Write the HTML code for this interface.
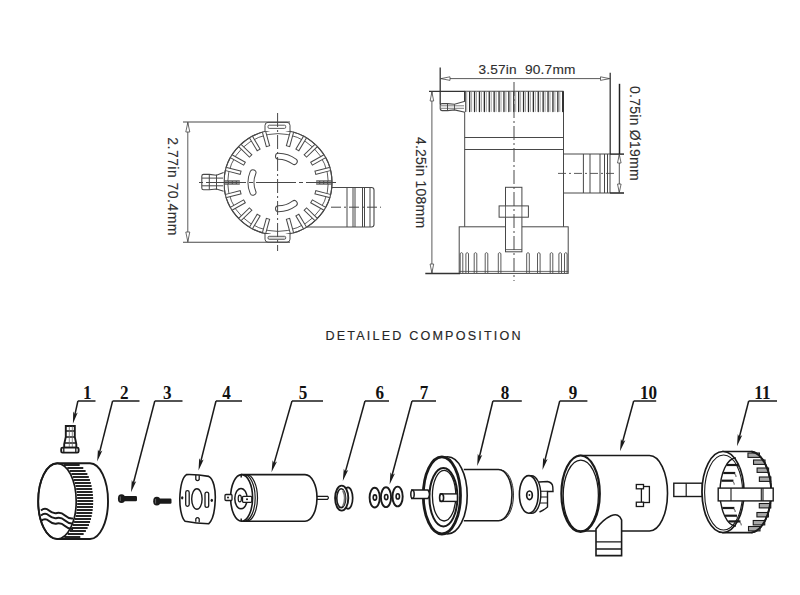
<!DOCTYPE html>
<html><head><meta charset="utf-8"><style>
html,body{margin:0;padding:0;background:#fff;width:800px;height:595px;overflow:hidden}
svg{display:block}
</style></head><body>
<svg width="800" height="595" viewBox="0 0 800 595">
<rect width="800" height="595" fill="#fff"/>
<path d="M330 187.5 H371.5 Q374 187.5 374 190 V224.5 Q374 227 371.5 227 H307" fill="none" stroke="#484848" stroke-width="1.1"/>
<line x1="347" y1="187.6" x2="347" y2="227" stroke="#484848" stroke-width="1"/>
<line x1="353" y1="187.6" x2="353" y2="227" stroke="#484848" stroke-width="1"/>
<line x1="355" y1="187.6" x2="355" y2="227" stroke="#484848" stroke-width="1"/>
<line x1="362.5" y1="187.6" x2="362.5" y2="227" stroke="#484848" stroke-width="1"/>
<line x1="364.5" y1="187.6" x2="364.5" y2="227" stroke="#484848" stroke-width="1"/>
<line x1="370" y1="187.6" x2="370" y2="227" stroke="#484848" stroke-width="1"/>
<g transform="translate(278.0 182.5) scale(1 0.972) translate(-278.0 -182.5)">
<circle cx="278.0" cy="182.5" r="54.0" fill="#fff" stroke="#484848" stroke-width="1.1"/>
<circle cx="278.0" cy="182.5" r="50.3" fill="none" stroke="#484848" stroke-width="0.9"/>
<line x1="316.20" y1="182.50" x2="331.60" y2="182.50" stroke="#484848" stroke-width="4.4" stroke-linecap="butt"/>
<line x1="316.20" y1="182.50" x2="331.60" y2="182.50" stroke="#aaa" stroke-width="2.4" stroke-linecap="butt" stroke-dasharray="3 1"/>
<line x1="314.90" y1="172.61" x2="329.77" y2="168.63" stroke="#484848" stroke-width="4.4" stroke-linecap="butt"/>
<line x1="315.86" y1="172.35" x2="330.74" y2="168.37" stroke="#fff" stroke-width="2.4" stroke-linecap="butt"/>
<line x1="311.08" y1="163.40" x2="324.42" y2="155.70" stroke="#484848" stroke-width="4.4" stroke-linecap="butt"/>
<line x1="311.95" y1="162.90" x2="325.28" y2="155.20" stroke="#fff" stroke-width="2.4" stroke-linecap="butt"/>
<line x1="305.01" y1="155.49" x2="315.90" y2="144.60" stroke="#484848" stroke-width="4.4" stroke-linecap="butt"/>
<line x1="305.72" y1="154.78" x2="316.61" y2="143.89" stroke="#fff" stroke-width="2.4" stroke-linecap="butt"/>
<line x1="297.10" y1="149.42" x2="304.80" y2="136.08" stroke="#484848" stroke-width="4.4" stroke-linecap="butt"/>
<line x1="297.60" y1="148.55" x2="305.30" y2="135.22" stroke="#fff" stroke-width="2.4" stroke-linecap="butt"/>
<line x1="287.89" y1="145.60" x2="291.87" y2="130.73" stroke="#484848" stroke-width="4.4" stroke-linecap="butt"/>
<line x1="288.15" y1="144.64" x2="292.13" y2="129.76" stroke="#fff" stroke-width="2.4" stroke-linecap="butt"/>
<line x1="268.11" y1="145.60" x2="264.13" y2="130.73" stroke="#484848" stroke-width="4.4" stroke-linecap="butt"/>
<line x1="267.85" y1="144.64" x2="263.87" y2="129.76" stroke="#fff" stroke-width="2.4" stroke-linecap="butt"/>
<line x1="258.90" y1="149.42" x2="251.20" y2="136.08" stroke="#484848" stroke-width="4.4" stroke-linecap="butt"/>
<line x1="258.40" y1="148.55" x2="250.70" y2="135.22" stroke="#fff" stroke-width="2.4" stroke-linecap="butt"/>
<line x1="250.99" y1="155.49" x2="240.10" y2="144.60" stroke="#484848" stroke-width="4.4" stroke-linecap="butt"/>
<line x1="250.28" y1="154.78" x2="239.39" y2="143.89" stroke="#fff" stroke-width="2.4" stroke-linecap="butt"/>
<line x1="244.92" y1="163.40" x2="231.58" y2="155.70" stroke="#484848" stroke-width="4.4" stroke-linecap="butt"/>
<line x1="244.05" y1="162.90" x2="230.72" y2="155.20" stroke="#fff" stroke-width="2.4" stroke-linecap="butt"/>
<line x1="241.10" y1="172.61" x2="226.23" y2="168.63" stroke="#484848" stroke-width="4.4" stroke-linecap="butt"/>
<line x1="240.14" y1="172.35" x2="225.26" y2="168.37" stroke="#fff" stroke-width="2.4" stroke-linecap="butt"/>
<line x1="239.80" y1="182.50" x2="224.40" y2="182.50" stroke="#484848" stroke-width="4.4" stroke-linecap="butt"/>
<line x1="239.80" y1="182.50" x2="224.40" y2="182.50" stroke="#aaa" stroke-width="2.4" stroke-linecap="butt" stroke-dasharray="3 1"/>
<line x1="241.10" y1="192.39" x2="226.23" y2="196.37" stroke="#484848" stroke-width="4.4" stroke-linecap="butt"/>
<line x1="240.14" y1="192.65" x2="225.26" y2="196.63" stroke="#fff" stroke-width="2.4" stroke-linecap="butt"/>
<line x1="244.92" y1="201.60" x2="231.58" y2="209.30" stroke="#484848" stroke-width="4.4" stroke-linecap="butt"/>
<line x1="244.05" y1="202.10" x2="230.72" y2="209.80" stroke="#fff" stroke-width="2.4" stroke-linecap="butt"/>
<line x1="250.99" y1="209.51" x2="240.10" y2="220.40" stroke="#484848" stroke-width="4.4" stroke-linecap="butt"/>
<line x1="250.28" y1="210.22" x2="239.39" y2="221.11" stroke="#fff" stroke-width="2.4" stroke-linecap="butt"/>
<line x1="258.90" y1="215.58" x2="251.20" y2="228.92" stroke="#484848" stroke-width="4.4" stroke-linecap="butt"/>
<line x1="258.40" y1="216.45" x2="250.70" y2="229.78" stroke="#fff" stroke-width="2.4" stroke-linecap="butt"/>
<line x1="268.11" y1="219.40" x2="264.13" y2="234.27" stroke="#484848" stroke-width="4.4" stroke-linecap="butt"/>
<line x1="267.85" y1="220.36" x2="263.87" y2="235.24" stroke="#fff" stroke-width="2.4" stroke-linecap="butt"/>
<line x1="287.89" y1="219.40" x2="291.87" y2="234.27" stroke="#484848" stroke-width="4.4" stroke-linecap="butt"/>
<line x1="288.15" y1="220.36" x2="292.13" y2="235.24" stroke="#fff" stroke-width="2.4" stroke-linecap="butt"/>
<line x1="297.10" y1="215.58" x2="304.80" y2="228.92" stroke="#484848" stroke-width="4.4" stroke-linecap="butt"/>
<line x1="297.60" y1="216.45" x2="305.30" y2="229.78" stroke="#fff" stroke-width="2.4" stroke-linecap="butt"/>
<line x1="305.01" y1="209.51" x2="315.90" y2="220.40" stroke="#484848" stroke-width="4.4" stroke-linecap="butt"/>
<line x1="305.72" y1="210.22" x2="316.61" y2="221.11" stroke="#fff" stroke-width="2.4" stroke-linecap="butt"/>
<line x1="311.08" y1="201.60" x2="324.42" y2="209.30" stroke="#484848" stroke-width="4.4" stroke-linecap="butt"/>
<line x1="311.95" y1="202.10" x2="325.28" y2="209.80" stroke="#fff" stroke-width="2.4" stroke-linecap="butt"/>
<line x1="314.90" y1="192.39" x2="329.77" y2="196.37" stroke="#484848" stroke-width="4.4" stroke-linecap="butt"/>
<line x1="315.86" y1="192.65" x2="330.74" y2="196.63" stroke="#fff" stroke-width="2.4" stroke-linecap="butt"/>
<circle cx="278.0" cy="182.5" r="54.0" fill="none" stroke="#484848" stroke-width="1.1"/>
<path d="M252.97 172.39 A27 27 0 0 0 252.97 192.61" fill="none" stroke="#484848" stroke-width="7" stroke-linecap="round"/>
<path d="M252.97 172.39 A27 27 0 0 0 252.97 192.61" fill="none" stroke="#fff" stroke-width="5" stroke-linecap="round"/>
<path d="M294.25 160.94 A27 27 0 0 0 278.47 155.50" fill="none" stroke="#484848" stroke-width="7" stroke-linecap="round"/>
<path d="M294.25 160.94 A27 27 0 0 0 278.47 155.50" fill="none" stroke="#fff" stroke-width="5" stroke-linecap="round"/>
<path d="M278.47 209.50 A27 27 0 0 0 294.25 204.06" fill="none" stroke="#484848" stroke-width="7" stroke-linecap="round"/>
<path d="M278.47 209.50 A27 27 0 0 0 294.25 204.06" fill="none" stroke="#fff" stroke-width="5" stroke-linecap="round"/>
</g>
<path d="M265 131 V125.4 Q265 122.4 268 122.4 H287 Q290 122.4 290 125.4 V131" fill="#fff" stroke="#484848" stroke-width="1"/>
<rect x="268" y="125.2" width="17.7" height="3.2" rx="1.2" fill="none" stroke="#484848" stroke-width="0.9"/>
<path d="M265 234 V239.2 Q265 242.2 268 242.2 H287 Q290 242.2 290 239.2 V234" fill="#fff" stroke="#484848" stroke-width="1"/>
<rect x="268" y="236.3" width="17.7" height="3.0" rx="1.2" fill="#ddd" stroke="#484848" stroke-width="0.9"/>
<path d="M223.6 172.6 L216.5 175.2 L209.3 174.4 H203.6 Q201.8 174.4 201.8 176.2 V188 Q201.8 189.8 203.6 189.8 H209.3 L216.5 189 L223.6 191.2" fill="#fff" stroke="#484848" stroke-width="1.1"/>
<line x1="209.3" y1="174.6" x2="209.3" y2="189.6" stroke="#484848" stroke-width="1"/>
<line x1="216.5" y1="174.6" x2="216.5" y2="189.6" stroke="#484848" stroke-width="1"/>
<line x1="202" y1="178.1" x2="223" y2="178.1" stroke="#484848" stroke-width="1"/>
<line x1="202" y1="185.8" x2="223" y2="185.8" stroke="#484848" stroke-width="1"/>
<line x1="277.6" y1="113" x2="277.6" y2="251" stroke="#484848" stroke-width="1" stroke-dasharray="14 3 2 3"/>
<line x1="199" y1="182.5" x2="336" y2="182.5" stroke="#484848" stroke-width="1" stroke-dasharray="40 3 4 3" stroke-dashoffset="-7"/>
<line x1="331" y1="207.2" x2="381" y2="207.2" stroke="#484848" stroke-width="1" stroke-dasharray="10 3 2 3"/>
<line x1="183" y1="122" x2="290" y2="122" stroke="#484848" stroke-width="1.1"/>
<line x1="183" y1="242.2" x2="290" y2="242.2" stroke="#484848" stroke-width="1.1"/>
<line x1="187.8" y1="122" x2="187.8" y2="242.2" stroke="#484848" stroke-width="0.9"/>
<path d="M185.8 132 L187.8 122.5 L189.8 132 Z" fill="#fff" stroke="#484848" stroke-width="0.8"/>
<path d="M185.8 232 L187.8 241.7 L189.8 232 Z" fill="#fff" stroke="#484848" stroke-width="0.8"/>
<text transform="translate(168.2 137.3) rotate(90)" font-family="&quot;Liberation Sans&quot;, sans-serif" font-size="13.9" fill="#2e2e2e" stroke="#2e2e2e" stroke-width="0.12" textLength="98" lengthAdjust="spacing" style="white-space:pre">2.77in 70.4mm</text>
<path d="M563.5 154 H610 V193 H563.5" fill="none" stroke="#484848" stroke-width="1"/>
<line x1="583.4" y1="154" x2="583.4" y2="193" stroke="#484848" stroke-width="1"/>
<line x1="590" y1="154" x2="590" y2="193" stroke="#484848" stroke-width="1"/>
<line x1="600" y1="154" x2="600" y2="193" stroke="#484848" stroke-width="1"/>
<line x1="604.5" y1="154" x2="604.5" y2="193" stroke="#484848" stroke-width="1"/>
<line x1="607.5" y1="154" x2="607.5" y2="193" stroke="#484848" stroke-width="1"/>
<line x1="558" y1="173.4" x2="617" y2="173.4" stroke="#484848" stroke-width="0.9" stroke-dasharray="8 3 2 3"/>
<path d="M464.7 112 V227 M563.5 112 V227" fill="none" stroke="#484848" stroke-width="1"/>
<line x1="464.7" y1="137.5" x2="563.5" y2="137.5" stroke="#484848" stroke-width="1"/>
<line x1="464.7" y1="149.5" x2="563.5" y2="149.5" stroke="#484848" stroke-width="1"/>
<line x1="464.7" y1="91.3" x2="563.5" y2="91.3" stroke="#484848" stroke-width="1.1"/>
<line x1="464.9" y1="91.3" x2="464.9" y2="112" stroke="#222" stroke-width="1.6"/>
<line x1="563.2" y1="91.3" x2="563.2" y2="112" stroke="#222" stroke-width="1.4"/>
<line x1="469.65" y1="92" x2="469.65" y2="111.5" stroke="#2a2a2a" stroke-width="1.3" stroke-linecap="round"/>
<line x1="466.71" y1="92" x2="466.71" y2="111.5" stroke="#999" stroke-width="0.9" stroke-linecap="round"/>
<line x1="474.55" y1="92" x2="474.55" y2="111.5" stroke="#2a2a2a" stroke-width="1.3" stroke-linecap="round"/>
<line x1="471.61" y1="92" x2="471.61" y2="111.5" stroke="#999" stroke-width="0.9" stroke-linecap="round"/>
<line x1="479.45" y1="92" x2="479.45" y2="111.5" stroke="#2a2a2a" stroke-width="1.3" stroke-linecap="round"/>
<line x1="476.51" y1="92" x2="476.51" y2="111.5" stroke="#999" stroke-width="0.9" stroke-linecap="round"/>
<line x1="484.35" y1="92" x2="484.35" y2="111.5" stroke="#2a2a2a" stroke-width="1.3" stroke-linecap="round"/>
<line x1="481.41" y1="92" x2="481.41" y2="111.5" stroke="#999" stroke-width="0.9" stroke-linecap="round"/>
<line x1="489.25" y1="92" x2="489.25" y2="111.5" stroke="#2a2a2a" stroke-width="1.3" stroke-linecap="round"/>
<line x1="486.31" y1="92" x2="486.31" y2="111.5" stroke="#999" stroke-width="0.9" stroke-linecap="round"/>
<line x1="494.15" y1="92" x2="494.15" y2="111.5" stroke="#2a2a2a" stroke-width="1.3" stroke-linecap="round"/>
<line x1="491.21" y1="92" x2="491.21" y2="111.5" stroke="#999" stroke-width="0.9" stroke-linecap="round"/>
<line x1="499.05" y1="92" x2="499.05" y2="111.5" stroke="#2a2a2a" stroke-width="1.3" stroke-linecap="round"/>
<line x1="496.11" y1="92" x2="496.11" y2="111.5" stroke="#999" stroke-width="0.9" stroke-linecap="round"/>
<line x1="503.95" y1="92" x2="503.95" y2="111.5" stroke="#2a2a2a" stroke-width="1.3" stroke-linecap="round"/>
<line x1="501.01" y1="92" x2="501.01" y2="111.5" stroke="#999" stroke-width="0.9" stroke-linecap="round"/>
<line x1="508.85" y1="92" x2="508.85" y2="111.5" stroke="#2a2a2a" stroke-width="1.3" stroke-linecap="round"/>
<line x1="505.91" y1="92" x2="505.91" y2="111.5" stroke="#999" stroke-width="0.9" stroke-linecap="round"/>
<line x1="513.75" y1="92" x2="513.75" y2="111.5" stroke="#2a2a2a" stroke-width="1.3" stroke-linecap="round"/>
<line x1="510.81" y1="92" x2="510.81" y2="111.5" stroke="#999" stroke-width="0.9" stroke-linecap="round"/>
<line x1="518.65" y1="92" x2="518.65" y2="111.5" stroke="#2a2a2a" stroke-width="1.3" stroke-linecap="round"/>
<line x1="515.72" y1="92" x2="515.72" y2="111.5" stroke="#999" stroke-width="0.9" stroke-linecap="round"/>
<line x1="523.55" y1="92" x2="523.55" y2="111.5" stroke="#2a2a2a" stroke-width="1.3" stroke-linecap="round"/>
<line x1="520.62" y1="92" x2="520.62" y2="111.5" stroke="#999" stroke-width="0.9" stroke-linecap="round"/>
<line x1="528.45" y1="92" x2="528.45" y2="111.5" stroke="#2a2a2a" stroke-width="1.3" stroke-linecap="round"/>
<line x1="525.51" y1="92" x2="525.51" y2="111.5" stroke="#999" stroke-width="0.9" stroke-linecap="round"/>
<line x1="533.36" y1="92" x2="533.36" y2="111.5" stroke="#2a2a2a" stroke-width="1.3" stroke-linecap="round"/>
<line x1="530.42" y1="92" x2="530.42" y2="111.5" stroke="#999" stroke-width="0.9" stroke-linecap="round"/>
<line x1="538.25" y1="92" x2="538.25" y2="111.5" stroke="#2a2a2a" stroke-width="1.3" stroke-linecap="round"/>
<line x1="535.32" y1="92" x2="535.32" y2="111.5" stroke="#999" stroke-width="0.9" stroke-linecap="round"/>
<line x1="543.15" y1="92" x2="543.15" y2="111.5" stroke="#2a2a2a" stroke-width="1.3" stroke-linecap="round"/>
<line x1="540.22" y1="92" x2="540.22" y2="111.5" stroke="#999" stroke-width="0.9" stroke-linecap="round"/>
<line x1="548.05" y1="92" x2="548.05" y2="111.5" stroke="#2a2a2a" stroke-width="1.3" stroke-linecap="round"/>
<line x1="545.12" y1="92" x2="545.12" y2="111.5" stroke="#999" stroke-width="0.9" stroke-linecap="round"/>
<line x1="552.95" y1="92" x2="552.95" y2="111.5" stroke="#2a2a2a" stroke-width="1.3" stroke-linecap="round"/>
<line x1="550.01" y1="92" x2="550.01" y2="111.5" stroke="#999" stroke-width="0.9" stroke-linecap="round"/>
<line x1="557.86" y1="92" x2="557.86" y2="111.5" stroke="#2a2a2a" stroke-width="1.3" stroke-linecap="round"/>
<line x1="554.92" y1="92" x2="554.92" y2="111.5" stroke="#999" stroke-width="0.9" stroke-linecap="round"/>
<line x1="562.75" y1="92" x2="562.75" y2="111.5" stroke="#2a2a2a" stroke-width="1.3" stroke-linecap="round"/>
<line x1="559.82" y1="92" x2="559.82" y2="111.5" stroke="#999" stroke-width="0.9" stroke-linecap="round"/>
<rect x="459.2" y="226.8" width="109" height="46.6" fill="#fff" stroke="#484848" stroke-width="1"/>
<line x1="459.2" y1="271.4" x2="568.2" y2="271.4" stroke="#484848" stroke-width="0.8"/>
<path d="M460.2 273 V253.5 Q461.5 251.8 462.8 253.5 V273" fill="none" stroke="#484848" stroke-width="0.9"/>
<path d="M465.9 273 V253.5 Q467.2 251.8 468.5 253.5 V273" fill="none" stroke="#484848" stroke-width="0.9"/>
<path d="M474.2 273 V253.5 Q475.5 251.8 476.8 253.5 V273" fill="none" stroke="#484848" stroke-width="0.9"/>
<path d="M485.2 273 V253.5 Q486.5 251.8 487.8 253.5 V273" fill="none" stroke="#484848" stroke-width="0.9"/>
<path d="M498.3 273 V253.5 Q499.6 251.8 500.90000000000003 253.5 V273" fill="none" stroke="#484848" stroke-width="0.9"/>
<path d="M526.7 273 V253.5 Q528 251.8 529.3 253.5 V273" fill="none" stroke="#484848" stroke-width="0.9"/>
<path d="M537.5 273 V253.5 Q538.8 251.8 540.0999999999999 253.5 V273" fill="none" stroke="#484848" stroke-width="0.9"/>
<path d="M550.2 273 V253.5 Q551.5 251.8 552.8 253.5 V273" fill="none" stroke="#484848" stroke-width="0.9"/>
<path d="M558.9000000000001 273 V253.5 Q560.2 251.8 561.5 253.5 V273" fill="none" stroke="#484848" stroke-width="0.9"/>
<path d="M564.5 273 V253.5 Q565.8 251.8 567.0999999999999 253.5 V273" fill="none" stroke="#484848" stroke-width="0.9"/>
<rect x="505.5" y="187.3" width="16.4" height="64.5" fill="#fff" stroke="#484848" stroke-width="1"/>
<rect x="499.1" y="205.9" width="29.3" height="11.3" fill="#fff" stroke="#484848" stroke-width="1"/>
<line x1="505.5" y1="249.6" x2="521.9" y2="249.6" stroke="#484848" stroke-width="0.8"/>
<line x1="505.5" y1="205.9" x2="505.5" y2="217.2" stroke="#484848" stroke-width="0.8"/>
<line x1="521.9" y1="205.9" x2="521.9" y2="217.2" stroke="#484848" stroke-width="0.8"/>
<path d="M465 101.3 L454.5 104.3 L447.5 103.6 H442.2 Q440.2 103.6 440.2 105.6 V108.6 Q440.2 110.6 442.2 110.6 H447.5 L454.5 109.9 L465 112.3" fill="#fff" stroke="#484848" stroke-width="1.1"/>
<line x1="447.5" y1="103.6" x2="447.5" y2="110.6" stroke="#484848" stroke-width="1"/>
<line x1="454.5" y1="104.3" x2="454.5" y2="109.9" stroke="#484848" stroke-width="0.9"/>
<line x1="441" y1="105.8" x2="464" y2="105.8" stroke="#484848" stroke-width="0.7"/>
<line x1="441" y1="108.3" x2="464" y2="108.3" stroke="#484848" stroke-width="0.7"/>
<line x1="514" y1="82" x2="514" y2="281" stroke="#484848" stroke-width="1" stroke-dasharray="14 3 2 3"/>
<line x1="440.2" y1="67.6" x2="440.2" y2="104.5" stroke="#333" stroke-width="1.3"/>
<line x1="610.2" y1="72.7" x2="610.2" y2="154" stroke="#333" stroke-width="1.3"/>
<line x1="440.3" y1="78.6" x2="610.2" y2="78.6" stroke="#484848" stroke-width="0.9"/>
<path d="M450 76.8 L441 78.6 L450 80.4 Z" fill="#fff" stroke="#484848" stroke-width="0.8"/>
<path d="M600.5 76.8 L609.5 78.6 L600.5 80.4 Z" fill="#fff" stroke="#484848" stroke-width="0.8"/>
<line x1="429" y1="91.3" x2="465" y2="91.3" stroke="#333" stroke-width="1.3"/>
<line x1="425.3" y1="273.5" x2="460" y2="273.5" stroke="#333" stroke-width="1.3"/>
<line x1="431.9" y1="91.3" x2="431.9" y2="273.5" stroke="#484848" stroke-width="0.9"/>
<path d="M430.1 101 L431.9 92 L433.7 101 Z" fill="#fff" stroke="#484848" stroke-width="0.8"/>
<path d="M430.1 264 L431.9 273 L433.7 264 Z" fill="#fff" stroke="#484848" stroke-width="0.8"/>
<line x1="619.5" y1="83.8" x2="619.5" y2="154" stroke="#222" stroke-width="1.5"/>
<line x1="619.3" y1="154" x2="619.3" y2="193" stroke="#555" stroke-width="1"/>
<line x1="610" y1="154.1" x2="624" y2="154.1" stroke="#222" stroke-width="1.4"/>
<line x1="610" y1="193" x2="624" y2="193" stroke="#222" stroke-width="1.5"/>
<path d="M617.5 163 L619.3 154.5 L621.1 163 Z" fill="#fff" stroke="#484848" stroke-width="0.8"/>
<path d="M617.5 184 L619.3 192.5 L621.1 184 Z" fill="#fff" stroke="#484848" stroke-width="0.8"/>
<text x="478.4" y="73.8" font-family="&quot;Liberation Sans&quot;, sans-serif" font-size="13.7" fill="#2e2e2e" stroke="#2e2e2e" stroke-width="0.12" textLength="97" lengthAdjust="spacing" style="white-space:pre">3.57in  90.7mm</text>
<text transform="translate(415.8 137) rotate(90)" font-family="&quot;Liberation Sans&quot;, sans-serif" font-size="13.9" fill="#2e2e2e" stroke="#2e2e2e" stroke-width="0.12" textLength="91" lengthAdjust="spacing" style="white-space:pre">4.25in 108mm</text>
<text transform="translate(630.2 86) rotate(90)" font-family="&quot;Liberation Sans&quot;, sans-serif" font-size="13.9" fill="#2e2e2e" stroke="#2e2e2e" stroke-width="0.12" textLength="94.5" lengthAdjust="spacing" style="white-space:pre">0.75in Ø19mm</text>
<text x="325.5" y="339.6" font-family="&quot;Liberation Sans&quot;, sans-serif" font-size="12.6" fill="#262626" stroke="#262626" stroke-width="0.15" textLength="195" lengthAdjust="spacing">DETAILED COMPOSITION</text>
<text transform="translate(83.0 399.3) scale(0.9 1)" font-family="&quot;Liberation Serif&quot;, serif" font-weight="bold" font-size="19" fill="#111">1</text>
<line x1="77.9" y1="401" x2="95.5" y2="401" stroke="#1a1a1a" stroke-width="1.5"/>
<line x1="77.9" y1="401" x2="74.84" y2="414.91" stroke="#1a1a1a" stroke-width="1.5"/>
<path d="M72.90 423.70 L73.24 411.49 L74.94 414.42 L77.73 412.48 Z" fill="#1a1a1a"/>
<text transform="translate(120.0 399.3) scale(0.9 1)" font-family="&quot;Liberation Serif&quot;, serif" font-weight="bold" font-size="19" fill="#111">2</text>
<line x1="112.6" y1="401" x2="139.5" y2="401" stroke="#1a1a1a" stroke-width="1.5"/>
<line x1="112.6" y1="401" x2="99.42" y2="452.88" stroke="#1a1a1a" stroke-width="1.5"/>
<path d="M97.20 461.60 L97.93 449.40 L99.54 452.39 L102.38 450.54 Z" fill="#1a1a1a"/>
<text transform="translate(163 399.3) scale(0.9 1)" font-family="&quot;Liberation Serif&quot;, serif" font-weight="bold" font-size="19" fill="#111">3</text>
<line x1="154.8" y1="401" x2="182.5" y2="401" stroke="#1a1a1a" stroke-width="1.5"/>
<line x1="154.8" y1="401" x2="133.27" y2="483.49" stroke="#1a1a1a" stroke-width="1.5"/>
<path d="M131.00 492.20 L131.80 480.01 L133.40 483.01 L136.26 481.17 Z" fill="#1a1a1a"/>
<text transform="translate(222.3 399.3) scale(0.9 1)" font-family="&quot;Liberation Serif&quot;, serif" font-weight="bold" font-size="19" fill="#111">4</text>
<line x1="216" y1="401" x2="242" y2="401" stroke="#1a1a1a" stroke-width="1.5"/>
<line x1="216" y1="401" x2="200.70" y2="461.77" stroke="#1a1a1a" stroke-width="1.5"/>
<path d="M198.50 470.50 L199.20 458.30 L200.82 461.29 L203.66 459.42 Z" fill="#1a1a1a"/>
<text transform="translate(298.8 399.3) scale(0.9 1)" font-family="&quot;Liberation Serif&quot;, serif" font-weight="bold" font-size="19" fill="#111">5</text>
<line x1="292" y1="401" x2="323" y2="401" stroke="#1a1a1a" stroke-width="1.5"/>
<line x1="292" y1="401" x2="273.99" y2="463.65" stroke="#1a1a1a" stroke-width="1.5"/>
<path d="M271.50 472.30 L272.61 460.13 L274.13 463.17 L277.03 461.40 Z" fill="#1a1a1a"/>
<text transform="translate(375.5 399.3) scale(0.9 1)" font-family="&quot;Liberation Serif&quot;, serif" font-weight="bold" font-size="19" fill="#111">6</text>
<line x1="365" y1="401" x2="389" y2="401" stroke="#1a1a1a" stroke-width="1.5"/>
<line x1="365" y1="401" x2="345.21" y2="472.33" stroke="#1a1a1a" stroke-width="1.5"/>
<path d="M342.80 481.00 L343.79 468.82 L345.34 471.85 L348.22 470.05 Z" fill="#1a1a1a"/>
<text transform="translate(419.8 399.3) scale(0.9 1)" font-family="&quot;Liberation Serif&quot;, serif" font-weight="bold" font-size="19" fill="#111">7</text>
<line x1="412" y1="401" x2="436" y2="401" stroke="#1a1a1a" stroke-width="1.5"/>
<line x1="412" y1="401" x2="391.93" y2="475.71" stroke="#1a1a1a" stroke-width="1.5"/>
<path d="M389.60 484.40 L390.49 472.21 L392.06 475.23 L394.93 473.41 Z" fill="#1a1a1a"/>
<text transform="translate(500.8 399.3) scale(0.9 1)" font-family="&quot;Liberation Serif&quot;, serif" font-weight="bold" font-size="19" fill="#111">8</text>
<line x1="492.9" y1="401" x2="521.8" y2="401" stroke="#1a1a1a" stroke-width="1.5"/>
<line x1="492.9" y1="401" x2="479.31" y2="457.25" stroke="#1a1a1a" stroke-width="1.5"/>
<path d="M477.20 466.00 L477.78 453.80 L479.43 456.77 L482.25 454.88 Z" fill="#1a1a1a"/>
<text transform="translate(568.7 399.3) scale(0.9 1)" font-family="&quot;Liberation Serif&quot;, serif" font-weight="bold" font-size="19" fill="#111">9</text>
<line x1="559.7" y1="401" x2="587.4" y2="401" stroke="#1a1a1a" stroke-width="1.5"/>
<line x1="559.7" y1="401" x2="544.68" y2="461.27" stroke="#1a1a1a" stroke-width="1.5"/>
<path d="M542.50 470.00 L543.17 457.80 L544.80 460.78 L547.63 458.91 Z" fill="#1a1a1a"/>
<text transform="translate(640 399.3) scale(0.9 1)" font-family="&quot;Liberation Serif&quot;, serif" font-weight="bold" font-size="19" fill="#111">10</text>
<line x1="633.7" y1="401" x2="656.2" y2="401" stroke="#1a1a1a" stroke-width="1.5"/>
<line x1="633.7" y1="401" x2="622.37" y2="442.52" stroke="#1a1a1a" stroke-width="1.5"/>
<path d="M620.00 451.20 L620.94 439.02 L622.50 442.04 L625.38 440.23 Z" fill="#1a1a1a"/>
<text transform="translate(754.3 399.3) scale(0.9 1)" font-family="&quot;Liberation Serif&quot;, serif" font-weight="bold" font-size="19" fill="#111">11</text>
<line x1="748.7" y1="401" x2="777" y2="401" stroke="#1a1a1a" stroke-width="1.5"/>
<line x1="748.7" y1="401" x2="739.26" y2="437.49" stroke="#1a1a1a" stroke-width="1.5"/>
<path d="M737.00 446.20 L737.78 434.01 L739.38 437.00 L742.23 435.16 Z" fill="#1a1a1a"/>
<path d="M65.8 426 H74.8 V437 L76.3 444 V447.6 H64.2 V444 L65.8 437 Z" fill="#fff" stroke="#1a1a1a" stroke-width="1.9" />
<path d="M65.8 431 H74.8 M65.8 437 H74.8 M65 443 H75.8" fill="none" stroke="#1a1a1a" stroke-width="1.4" />
<path d="M69.3 426.5 V447 M72.3 426.5 V447" fill="none" stroke="#666" stroke-width="0.8" />
<rect x="61.2" y="447.6" width="17.4" height="5" rx="1.4" fill="#fff" stroke="#1a1a1a" stroke-width="1.9"/>
<path d="M63.8 448 V452.2 M75.8 448 V452.2" fill="none" stroke="#1a1a1a" stroke-width="1.3" />
<path d="M57.2 463.3 A19 37.8 0 0 0 57.2 539 H90 A18 37.8 0 0 0 90 463.3 Z" fill="#fff" stroke="#1a1a1a" stroke-width="1.9" />
<ellipse cx="57.2" cy="501.2" rx="19" ry="37.8" fill="none" stroke="#1a1a1a" stroke-width="1.7"/>
<line x1="63.67" y1="465.00" x2="79.67" y2="465.00" stroke="#1a1a1a" stroke-width="1.9"/>
<line x1="67.28" y1="468.00" x2="83.28" y2="468.00" stroke="#1a1a1a" stroke-width="1.9"/>
<line x1="69.63" y1="471.00" x2="85.63" y2="471.00" stroke="#1a1a1a" stroke-width="1.9"/>
<line x1="71.39" y1="474.00" x2="87.39" y2="474.00" stroke="#1a1a1a" stroke-width="1.9"/>
<line x1="72.80" y1="477.00" x2="88.80" y2="477.00" stroke="#1a1a1a" stroke-width="1.9"/>
<line x1="73.93" y1="480.00" x2="89.93" y2="480.00" stroke="#1a1a1a" stroke-width="1.9"/>
<line x1="74.85" y1="483.00" x2="90.85" y2="483.00" stroke="#1a1a1a" stroke-width="1.9"/>
<line x1="75.60" y1="486.00" x2="91.60" y2="486.00" stroke="#1a1a1a" stroke-width="1.9"/>
<line x1="76.18" y1="489.00" x2="92.18" y2="489.00" stroke="#1a1a1a" stroke-width="1.9"/>
<line x1="76.63" y1="492.00" x2="92.63" y2="492.00" stroke="#1a1a1a" stroke-width="1.9"/>
<line x1="76.94" y1="495.00" x2="92.94" y2="495.00" stroke="#1a1a1a" stroke-width="1.9"/>
<line x1="77.13" y1="498.00" x2="93.13" y2="498.00" stroke="#1a1a1a" stroke-width="1.9"/>
<line x1="77.20" y1="501.00" x2="93.20" y2="501.00" stroke="#1a1a1a" stroke-width="1.9"/>
<line x1="77.15" y1="504.00" x2="93.15" y2="504.00" stroke="#1a1a1a" stroke-width="1.9"/>
<line x1="76.98" y1="507.00" x2="92.98" y2="507.00" stroke="#1a1a1a" stroke-width="1.9"/>
<line x1="76.68" y1="510.00" x2="92.68" y2="510.00" stroke="#1a1a1a" stroke-width="1.9"/>
<line x1="76.25" y1="513.00" x2="92.25" y2="513.00" stroke="#1a1a1a" stroke-width="1.9"/>
<line x1="75.68" y1="516.00" x2="91.68" y2="516.00" stroke="#1a1a1a" stroke-width="1.9"/>
<line x1="74.96" y1="519.00" x2="90.96" y2="519.00" stroke="#1a1a1a" stroke-width="1.9"/>
<line x1="74.06" y1="522.00" x2="90.06" y2="522.00" stroke="#1a1a1a" stroke-width="1.9"/>
<line x1="72.96" y1="525.00" x2="88.96" y2="525.00" stroke="#1a1a1a" stroke-width="1.9"/>
<line x1="71.60" y1="528.00" x2="87.60" y2="528.00" stroke="#1a1a1a" stroke-width="1.9"/>
<line x1="69.89" y1="531.00" x2="85.89" y2="531.00" stroke="#1a1a1a" stroke-width="1.9"/>
<line x1="67.64" y1="534.00" x2="83.64" y2="534.00" stroke="#1a1a1a" stroke-width="1.9"/>
<line x1="64.30" y1="537.00" x2="80.30" y2="537.00" stroke="#1a1a1a" stroke-width="1.9"/>
<path d="M41 510.5 q4 -3.5 8 0 t8 2.5 t8 2.5 t8 3" fill="none" stroke="#1a1a1a" stroke-width="2.0" />
<path d="M41 515.5 q4 -3.5 8 0 t8 2.5 t8 2.5 t8 3" fill="none" stroke="#1a1a1a" stroke-width="2.0" />
<path d="M41 521 q4 -3.5 8 0 t8 2.5 t8 2.5 t8 3" fill="none" stroke="#1a1a1a" stroke-width="2.0" />
<rect x="123.5" y="496.09999999999997" width="13.5" height="5.2" rx="1.2" fill="#1a1a1a"/>
<ellipse cx="121.5" cy="498.7" rx="3.6" ry="4.4" fill="#1a1a1a"/>
<line x1="120.3" y1="496.4" x2="120.3" y2="501.0" stroke="#888" stroke-width="0.7"/>
<rect x="158.8" y="498.59999999999997" width="12.699999999999989" height="5.2" rx="1.2" fill="#1a1a1a"/>
<ellipse cx="156.8" cy="501.2" rx="3.6" ry="4.4" fill="#1a1a1a"/>
<line x1="155.60000000000002" y1="498.9" x2="155.60000000000002" y2="503.5" stroke="#888" stroke-width="0.7"/>
<path d="M186.5 474.6 Q197.5 474.3 208.8 476.4 C213.5 478.5 215.8 490 215.2 500.3 C214.8 511 212.5 520.5 208.6 523.8 Q196.5 523.5 185 521.2 C181.2 518 179.6 506 179.8 498.3 C180.2 488 182 477.5 186.5 474.6 Z" fill="#fff" stroke="#1a1a1a" stroke-width="1.6" />
<ellipse cx="196.9" cy="499" rx="5.2" ry="10.2" fill="none" stroke="#1a1a1a" stroke-width="1.4"/>
<rect x="185.7" y="490.7" width="3.5" height="15.6" rx="1.75" fill="none" stroke="#1a1a1a" stroke-width="1.3"/>
<rect x="205" y="492.2" width="3.7" height="15.2" rx="1.85" fill="none" stroke="#1a1a1a" stroke-width="1.3"/>
<path d="M195.8 475 V479.5 Q197.5 481.8 199.2 479.5 V475.2" fill="none" stroke="#1a1a1a" stroke-width="1.3" />
<path d="M195.8 521.8 V518.8 Q197.5 516.5 199.2 518.8 V522.3" fill="none" stroke="#1a1a1a" stroke-width="1.3" />
<ellipse cx="182.2" cy="497.8" rx="1.2" ry="1.6" fill="#1a1a1a"/>
<ellipse cx="211.8" cy="500.3" rx="1.2" ry="1.6" fill="#1a1a1a"/>
<path d="M316 496.3 H327.5 Q329.3 497.8 327.5 499.3 H316" fill="#fff" stroke="#1a1a1a" stroke-width="1.2" />
<path d="M241.6 474.6 H305 A12 23.3 0 0 1 305 521.2 H241.6 Z" fill="#fff" stroke="#1a1a1a" stroke-width="1.6" />
<path d="M244.2 474.6 A11 23.3 0 0 1 244.2 521.2" fill="none" stroke="#1a1a1a" stroke-width="1.2" />
<path d="M246.5 474.6 A11 23.3 0 0 1 246.5 521.2" fill="none" stroke="#1a1a1a" stroke-width="1.2" />
<ellipse cx="241.6" cy="497.9" rx="11" ry="23.3" fill="#fff" stroke="#1a1a1a" stroke-width="1.6"/>
<ellipse cx="241" cy="498.6" rx="6.2" ry="10.2" fill="#fff" stroke="#1a1a1a" stroke-width="1.5"/>
<ellipse cx="239.8" cy="498.5" rx="1.6" ry="3.3" fill="none" stroke="#1a1a1a" stroke-width="1.2"/>
<rect x="225" y="494.5" width="7" height="6" rx="1" fill="#fff" stroke="#1a1a1a" stroke-width="1.3"/>
<rect x="242.5" y="496.3" width="9.3" height="6" rx="1" fill="#fff" stroke="#1a1a1a" stroke-width="1.3"/>
<circle cx="228" cy="497.5" r="1" fill="#1a1a1a"/>
<circle cx="247" cy="499.3" r="1" fill="#1a1a1a"/>
<path d="M241.2 475 v2.5 M241.2 518.5 v2.5" fill="none" stroke="#1a1a1a" stroke-width="1.5" />
<ellipse cx="348.0" cy="498.1" rx="4.7" ry="10.7" fill="#fff" stroke="#1a1a1a" stroke-width="1.7"/>
<ellipse cx="341.7" cy="498.1" rx="6.6" ry="12.5" fill="#fff" stroke="#1a1a1a" stroke-width="1.9"/>
<ellipse cx="341.2" cy="498.2" rx="4.4" ry="9.4" fill="none" stroke="#1a1a1a" stroke-width="1.6"/>
<path d="M343 490.5 Q346.5 498 343 506" fill="none" stroke="#777" stroke-width="1.8" />
<ellipse cx="374.7" cy="497.6" rx="5.1" ry="9.9" fill="#fff" stroke="#1a1a1a" stroke-width="1.9"/>
<ellipse cx="374.9" cy="497.5" rx="1.7" ry="2.6" fill="none" stroke="#1a1a1a" stroke-width="1.6"/>
<ellipse cx="386.0" cy="497.2" rx="5.1" ry="9.9" fill="#fff" stroke="#1a1a1a" stroke-width="1.9"/>
<ellipse cx="386.2" cy="497.09999999999997" rx="1.7" ry="2.6" fill="none" stroke="#1a1a1a" stroke-width="1.6"/>
<ellipse cx="397.6" cy="496.5" rx="5.1" ry="9.9" fill="#fff" stroke="#1a1a1a" stroke-width="1.9"/>
<ellipse cx="397.8" cy="496.4" rx="1.7" ry="2.6" fill="none" stroke="#1a1a1a" stroke-width="1.6"/>
<path d="M463.8 469.5 H498.5 A13.5 25.6 0 0 1 498.5 520.7 H463.8" fill="#fff" stroke="#1a1a1a" stroke-width="1.6" />
<path d="M501 470.2 A12.5 24.9 0 0 1 501 520" fill="none" stroke="#1a1a1a" stroke-width="0.9" />
<ellipse cx="447.6" cy="495.4" rx="19.6" ry="38.6" fill="#fff" stroke="#1a1a1a" stroke-width="1.6"/>
<ellipse cx="441.9" cy="495.4" rx="18.6" ry="38.6" fill="#fff" stroke="#1a1a1a" stroke-width="2.8"/>
<ellipse cx="443.4" cy="497.2" rx="14.0" ry="29.2" fill="none" stroke="#1a1a1a" stroke-width="2.0"/>
<ellipse cx="444.1" cy="495.7" rx="11.7" ry="25.3" fill="none" stroke="#1a1a1a" stroke-width="1.3"/>
<path d="M411 490 H428 Q431 494.2 428 498.4 H411" fill="#fff" stroke="#1a1a1a" stroke-width="1.5" />
<ellipse cx="412.5" cy="494.2" rx="1.7" ry="4.0" fill="#fff" stroke="#1a1a1a" stroke-width="1.5"/>
<rect x="440.3" y="493.9" width="17.1" height="7.5" fill="#fff" stroke="#1a1a1a" stroke-width="1.4"/>
<ellipse cx="441.6" cy="497.65" rx="2.0" ry="3.75" fill="#fff" stroke="#1a1a1a" stroke-width="1.6"/>
<path d="M539 482 L547.5 481.5 Q552.5 482.5 552.8 487 L553 491.5 L547.5 491.5 V507 Q544 510 539.5 512" fill="#fff" stroke="#1a1a1a" stroke-width="1.4" />
<path d="M540 491.3 H547.5 M540 497 H547.5 M540 503 H547.5" fill="none" stroke="#1a1a1a" stroke-width="1.1" />
<ellipse cx="531.4" cy="494.6" rx="9.4" ry="18.8" fill="#fff" stroke="#1a1a1a" stroke-width="1.4"/>
<ellipse cx="528.8" cy="494.4" rx="9.4" ry="18.8" fill="#fff" stroke="#1a1a1a" stroke-width="1.6"/>
<ellipse cx="529.5" cy="495.3" rx="2.8" ry="4.3" fill="none" stroke="#1a1a1a" stroke-width="1.7"/>
<circle cx="529.4" cy="495" r="0.9" fill="#1a1a1a"/>
<path d="M579 455.5 H649.5 A18 37.7 0 0 1 649.5 531 H579 Z" fill="#fff" stroke="#1a1a1a" stroke-width="1.6" />
<ellipse cx="580.6" cy="493.7" rx="19.2" ry="38.2" fill="#fff" stroke="#1a1a1a" stroke-width="2.2"/>
<ellipse cx="580.8" cy="495.6" rx="17.6" ry="35.4" fill="none" stroke="#1a1a1a" stroke-width="1.3"/>
<rect x="641.4" y="486.5" width="8" height="16" fill="#fff" stroke="#1a1a1a" stroke-width="1.3"/>
<rect x="636.3" y="484.5" width="7.2" height="4.3" fill="#fff" stroke="#1a1a1a" stroke-width="1.3"/>
<rect x="636.3" y="502.2" width="7.2" height="4.3" fill="#fff" stroke="#1a1a1a" stroke-width="1.3"/>
<path d="M596 531.5 V529 Q603 519.5 611 515.8 Q619 512.5 621.6 520 V555.6 H596 Z" fill="#fff" stroke="#1a1a1a" stroke-width="1.6" />
<path d="M596 541.9 H621.6 M596 549 H621.6" fill="none" stroke="#1a1a1a" stroke-width="1.4" />
<rect x="673.8" y="483.2" width="28.5" height="13.3" fill="#fff" stroke="#1a1a1a" stroke-width="1.4"/>
<line x1="686.2" y1="483.2" x2="686.2" y2="496.5" stroke="#1a1a1a" stroke-width="1.2"/>
<path d="M723 451.5 H751.5 A21.5 40.7 0 0 1 751.5 532.6 H723 Z" fill="#fff" stroke="#1a1a1a" stroke-width="1.7" />
<rect x="747.96" y="453.00" width="11.5" height="4.4" fill="#a8a8a8" stroke="#1a1a1a" stroke-width="1.1"/>
<rect x="753.53" y="460.00" width="11.5" height="4.4" fill="#a8a8a8" stroke="#1a1a1a" stroke-width="1.1"/>
<rect x="757.09" y="468.00" width="11.5" height="4.4" fill="#a8a8a8" stroke="#1a1a1a" stroke-width="1.1"/>
<rect x="759.37" y="477.00" width="11.5" height="4.4" fill="#a8a8a8" stroke="#1a1a1a" stroke-width="1.1"/>
<rect x="759.28" y="503.50" width="11.5" height="4.4" fill="#a8a8a8" stroke="#1a1a1a" stroke-width="1.1"/>
<rect x="756.92" y="512.50" width="11.5" height="4.4" fill="#a8a8a8" stroke="#1a1a1a" stroke-width="1.1"/>
<rect x="753.24" y="520.50" width="11.5" height="4.4" fill="#a8a8a8" stroke="#1a1a1a" stroke-width="1.1"/>
<rect x="748.51" y="526.50" width="11.5" height="4.4" fill="#a8a8a8" stroke="#1a1a1a" stroke-width="1.1"/>
<path d="M751.5 451.5 A21.5 40.7 0 0 1 751.5 532.6" fill="none" stroke="#1a1a1a" stroke-width="1.9" />
<ellipse cx="723" cy="492" rx="21" ry="40.5" fill="#fff" stroke="#1a1a1a" stroke-width="1.7"/>
<ellipse cx="723.6" cy="492.5" rx="19" ry="37.5" fill="none" stroke="#1a1a1a" stroke-width="1.1"/>
<path d="M736 458 A16 34 0 0 0 736 526" fill="none" stroke="#1a1a1a" stroke-width="1.4" />
<line x1="726.78" y1="465" x2="738.78" y2="465" stroke="#1a1a1a" stroke-width="2.2"/>
<path d="M737.78 465.8 q2.2 0.6 1.8 3.2" fill="none" stroke="#444" stroke-width="0.9" />
<line x1="723.23" y1="473" x2="735.23" y2="473" stroke="#1a1a1a" stroke-width="2.2"/>
<path d="M734.23 473.8 q2.2 0.6 1.8 3.2" fill="none" stroke="#444" stroke-width="0.9" />
<line x1="721.41" y1="480.7" x2="733.41" y2="480.7" stroke="#1a1a1a" stroke-width="2.2"/>
<path d="M732.41 481.5 q2.2 0.6 1.8 3.2" fill="none" stroke="#444" stroke-width="0.9" />
<line x1="722.38" y1="508" x2="734.38" y2="508" stroke="#1a1a1a" stroke-width="2.2"/>
<path d="M733.38 508.8 q2.2 0.6 1.8 3.2" fill="none" stroke="#444" stroke-width="0.9" />
<line x1="725.03" y1="515.7" x2="737.03" y2="515.7" stroke="#1a1a1a" stroke-width="2.2"/>
<path d="M736.03 516.5 q2.2 0.6 1.8 3.2" fill="none" stroke="#444" stroke-width="0.9" />
<line x1="728.46" y1="521.4" x2="740.46" y2="521.4" stroke="#1a1a1a" stroke-width="2.2"/>
<path d="M739.46 522.1999999999999 q2.2 0.6 1.8 3.2" fill="none" stroke="#444" stroke-width="0.9" />
<rect x="718.2" y="488.1" width="55" height="12.8" fill="#fff" stroke="#1a1a1a" stroke-width="1.4"/>
<path d="M731 488.1 V500.9 M761.3 488.1 V500.9 M763 488.1 V500.9" fill="none" stroke="#1a1a1a" stroke-width="1.1" />
</svg>
</body></html>
